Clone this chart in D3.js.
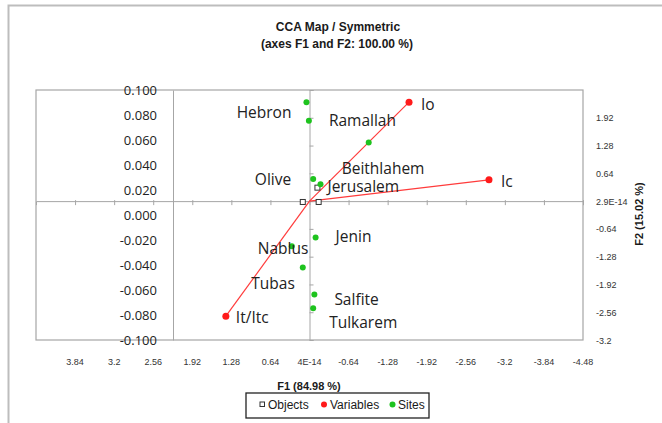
<!DOCTYPE html>
<html>
<head>
<meta charset="utf-8">
<script src="https://cdn.jsdelivr.net/npm/d3@7"></script>
<style>
  body { margin:0; background:#fff; }
  svg { display:block; }
</style>
</head>
<body>
<div id="chart"></div>
<script>
// F1 / F2 coordinates
const siteNames = ['Hebron','Ramallah','Beithlahem','Olive','Jerusalem','Jenin','Nablus','Tubas','Salfite','Tulkarem'];
const siteF1 = [0.05, 0.01, -0.97, -0.06, -0.18, -0.10, 0.29, 0.11, -0.08, -0.06];
const siteF2 = [2.28, 1.85, 1.35, 0.51, 0.39, -0.84, -1.04, -1.53, -2.15, -2.47];

const varNames = ['Io','Ic','It/Itc'];
const varF1 = [-1.63, -2.94, 1.37];
const varF2 = [2.28, 0.49, -2.65];

const objF1 = [0.11, -0.15, -0.13];
const objF2 = [-0.02, -0.02, 0.31];

const f1Ticks = [3.84, 3.2, 2.56, 1.92, 1.28, 0.64, 0, -0.64, -1.28, -1.92, -2.56, -3.2, -3.84, -4.48];
const f1Labels = ['3.84','3.2','2.56','1.92','1.28','0.64','4E-14','-0.64','-1.28','-1.92','-2.56','-3.2','-3.84','-4.48'];
const f2Ticks = [2.56, 1.92, 1.28, 0.64, 0, -0.64, -1.28, -1.92, -2.56, -3.2];
const f2Labels = ['', '1.92','1.28','0.64','2.9E-14','-0.64','-1.28','-1.92','-2.56','-3.2'];
const leftTicks = [0.1, 0.08, 0.06, 0.04, 0.02, 0, -0.02, -0.04, -0.06, -0.08, -0.1];

// label placement (dx, dy from point, anchor)
const labelPos = {
    'Hebron':[-15,16,'end'], 'Ramallah':[20,5,'start'], 'Beithlahem':[-27,31,'start'],
    'Olive':[-22,6,'end'], 'Jerusalem':[7,7.5,'start'], 'Jenin':[20,4,'start'],
    'Nablus':[-34,8,'start'], 'Tubas':[-8,21.5,'end'], 'Salfite':[20,10.5,'start'],
    'Tulkarem':[16,20,'start'], 'Io':[12,8,'start'], 'Ic':[12,7.5,'start'], 'It/Itc':[10,7,'start']
};

const W = 662, H = 423;
const L = 36, R = 583, T = 90, B = 340;

const svg = d3.select('#chart').append('svg')
    .attr('width', W).attr('height', H);

// outer chart border (only top/left visible)
svg.append('path')
    .attr('d', `M8.5,${H} L8.5,5.5 L${W},5.5`)
    .style('fill','none').style('stroke','#bdbdbd').style('stroke-width',2);

const x = d3.scaleLinear().domain([4.48, -4.48]).range([L, R]);
const y = d3.scaleLinear().domain([2.56, -3.2]).range([T, B]);
const yLeft = d3.scaleLinear().domain([-0.1, 0.1]).range([B, T]);

// plot box
svg.append('rect')
    .attr('x', L).attr('y', T).attr('width', R - L).attr('height', B - T)
    .style('fill','none').style('stroke','#a6a6a6').style('stroke-width',1.2);

// title
const title = svg.append('text')
    .attr('text-anchor','middle')
    .style('font-family','"Liberation Sans", Arial, sans-serif')
    .style('font-weight','bold').style('font-size','12px').style('fill','#1a1a1a');
title.append('tspan').attr('x',338).attr('y',31).text('CCA Map / Symmetric');
title.append('tspan').attr('x',337).attr('y',47.5).text('(axes F1 and F2: 100.00 %)');

// left primary axis
const fmt3 = d3.format('.3f');
const gLeft = svg.append('g')
    .attr('transform','translate(173,0)')
    .call(d3.axisLeft(yLeft).tickValues(leftTicks).tickSize(0).tickPadding(16)
        .tickFormat(d => fmt3(d).replace('\u2212','-')));
gLeft.select('.domain').style('stroke','#a6a6a6');
gLeft.selectAll('text')
    .style('font-family','"Open Sans", sans-serif').style('font-size','13px').style('fill','#222');

// F1 axis line through F2 = 0
const gX = svg.append('g')
    .attr('transform',`translate(0,${y(0)})`)
    .call(d3.axisBottom(x).tickValues(f1Ticks).tickSize(4).tickFormat(''));
gX.select('.domain').style('stroke','#a6a6a6');
gX.selectAll('.tick line').style('stroke','#a6a6a6').attr('y1',-1);

// F2 axis line through F1 = 0
const gY = svg.append('g')
    .attr('transform',`translate(${x(0)},0)`)
    .call(d3.axisRight(y).tickValues(f2Ticks).tickSize(4).tickFormat(''));
gY.select('.domain').style('stroke','#a6a6a6');
gY.selectAll('.tick line').style('stroke','#a6a6a6');

// bottom labels
svg.append('g').selectAll('text')
    .data(f1Ticks)
    .enter().append('text')
    .attr('x', d => x(d)).attr('y', 365)
    .attr('text-anchor','middle')
    .style('font-family','"Liberation Sans", Arial, sans-serif')
    .style('font-size','9px').style('fill','#333')
    .text((d,i) => f1Labels[i]);

// right labels
svg.append('g').selectAll('text')
    .data(f2Ticks)
    .enter().append('text')
    .attr('x', 596).attr('y', d => y(d) + 3.5)
    .style('font-family','"Liberation Sans", Arial, sans-serif')
    .style('font-size','9px').style('fill','#333')
    .text((d,i) => f2Labels[i]);

// axis titles
svg.append('text')
    .attr('x',309).attr('y',389.5).attr('text-anchor','middle')
    .style('font-family','"Liberation Sans", Arial, sans-serif')
    .style('font-weight','bold').style('font-size','11px').style('fill','#1a1a1a')
    .text('F1 (84.98 %)');
svg.append('text')
    .attr('transform','translate(643,214) rotate(-90)')
    .attr('text-anchor','middle')
    .style('font-family','"Liberation Sans", Arial, sans-serif')
    .style('font-weight','bold').style('font-size','11px').style('fill','#1a1a1a')
    .text('F2 (15.02 %)');

// variable vectors
const vars = varNames.map((n,i) => ({name:n, f1:varF1[i], f2:varF2[i]}));
const sites = siteNames.map((n,i) => ({name:n, f1:siteF1[i], f2:siteF2[i]}));
const objs = objF1.map((v,i) => ({f1:v, f2:objF2[i]}));

svg.append('g').selectAll('line')
    .data(vars)
    .enter().append('line')
    .attr('x1', x(0)).attr('y1', y(0))
    .attr('x2', d => x(d.f1)).attr('y2', d => y(d.f2))
    .style('stroke','#ff3b3b').style('stroke-width',1.2);

// objects
svg.append('g').selectAll('rect')
    .data(objs)
    .enter().append('rect')
    .attr('x', d => x(d.f1) - 2.5).attr('y', d => y(d.f2) - 2.5)
    .attr('width',5).attr('height',5)
    .style('fill','#fff').style('stroke','#333').style('stroke-width',1);

// sites
svg.append('g').selectAll('circle')
    .data(sites)
    .enter().append('circle')
    .attr('cx', d => x(d.f1)).attr('cy', d => y(d.f2)).attr('r',3)
    .style('fill','#1ec31e');

// variables points
svg.append('g').selectAll('circle')
    .data(vars)
    .enter().append('circle')
    .attr('cx', d => x(d.f1)).attr('cy', d => y(d.f2)).attr('r',3.5)
    .style('fill','#ff1a1a');

// point labels
svg.append('g').selectAll('text')
    .data(sites.concat(vars))
    .enter().append('text')
    .attr('x', d => x(d.f1) + labelPos[d.name][0])
    .attr('y', d => y(d.f2) + labelPos[d.name][1])
    .attr('text-anchor', d => labelPos[d.name][2])
    .style('font-family','"Open Sans", sans-serif')
    .style('font-size','15.5px').style('fill','#222')
    .text(d => d.name);

// legend
const leg = svg.append('g');
leg.append('rect')
    .attr('x',246).attr('y',393).attr('width',183).attr('height',25)
    .style('fill','#fff').style('stroke','#222').style('stroke-width',1.3);
leg.append('rect')
    .attr('x',260).attr('y',402).attr('width',4.5).attr('height',4.5)
    .style('fill','#fff').style('stroke','#333');
leg.append('circle').attr('cx',324).attr('cy',404.5).attr('r',3).style('fill','#ff1a1a');
leg.append('circle').attr('cx',392.5).attr('cy',404.5).attr('r',3).style('fill','#1ec31e');
const legText = [['Objects',268],['Variables',330],['Sites',398]];
leg.selectAll('text.lt')
    .data(legText)
    .enter().append('text')
    .attr('x', d => d[1]).attr('y',409)
    .style('font-family','"Liberation Sans", Arial, sans-serif')
    .style('font-size','12px').style('fill','#1a1a1a')
    .text(d => d[0]);
</script>
</body>
</html>
